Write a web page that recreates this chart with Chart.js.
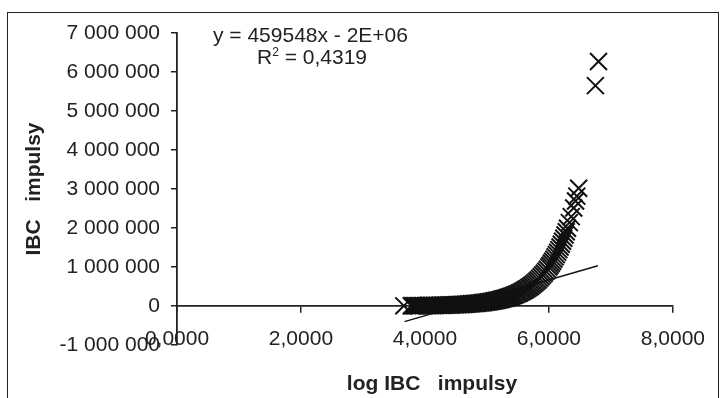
<!DOCTYPE html>
<html>
<head>
<meta charset="utf-8">
<script src="https://cdn.jsdelivr.net/npm/chart.js@4.4.1/dist/chart.umd.min.js"></script>
<style>
  body { margin: 0; background: #fff; }
  #wrap { position: relative; width: 720px; height: 398px; overflow: hidden; font-family: "Liberation Sans", Arial, sans-serif; color: #222; }
  #ibcChart { position: absolute; left: 0; top: 0; }
  #frame { position: absolute; left: 7px; top: 12px; width: 710px; height: 420px; border: 1.7px solid #222; }
  .txt { position: absolute; font-size: 21px; line-height: 25px; white-space: pre; }
  .ttl { position: absolute; font-size: 21px; line-height: 25px; font-weight: bold; white-space: pre; transform: translate(-50%, -50%); }
  sup { font-size: 12px; line-height: 0; vertical-align: 8px; }
</style>
</head>
<body>
<div id="wrap">
  <canvas id="ibcChart" width="720" height="398"></canvas>
  <div id="frame"></div>
  <div class="txt" style="left:213px; top:22px;">y = 459548x - 2E+06</div>
  <div class="txt" style="left:257px; top:44px;">R<sup>2</sup> = 0,4319</div>
  <div class="ttl" style="left:32px; top:189px; transform: translate(-50%, -50%) rotate(-90deg);">IBC   impulsy</div>
  <div class="ttl" style="left:432px; top:382px;">log IBC   impulsy</div>
</div>
<script>
// log IBC impulsy (x) vs IBC impulsy (y)
let logImpulsy = [
  3.66, 3.78,
  3.800, 3.825, 3.850, 3.875, 3.900, 3.925, 3.950, 3.975,
  4.000, 4.025, 4.050, 4.075, 4.100, 4.125, 4.150, 4.175,
  4.200, 4.225, 4.250, 4.275, 4.300, 4.325, 4.350, 4.375,
  4.400, 4.425, 4.450, 4.475, 4.500, 4.525, 4.550, 4.575,
  4.600, 4.625, 4.650, 4.675, 4.700, 4.725, 4.750, 4.775,
  4.800, 4.825, 4.850, 4.875, 4.900, 4.925, 4.950, 4.975,
  5.000, 5.025, 5.050, 5.075, 5.100, 5.125, 5.150, 5.175,
  5.200, 5.225, 5.250, 5.275, 5.300, 5.325, 5.350, 5.375,
  5.400, 5.425, 5.450, 5.475, 5.500, 5.525, 5.550, 5.575,
  5.600, 5.625, 5.650, 5.675, 5.700, 5.725, 5.750, 5.775,
  5.800, 5.825, 5.850, 5.875, 5.900, 5.925, 5.950, 5.975,
  6.00, 6.02, 6.04, 6.06, 6.08, 6.10, 6.12, 6.14,
  6.16, 6.18, 6.20, 6.22, 6.24, 6.26, 6.28, 6.30,
  6.33, 6.36, 6.40, 6.43, 6.45, 6.48,
  6.75, 6.80
];
let impulsy = [
  4600, 6000,
  6310, 6680, 7080, 7500, 7940, 8410, 8910, 9440,
  10000, 10590, 11220, 11890, 12590, 13340, 14130, 14960,
  15850, 16790, 17780, 18840, 19950, 21140, 22390, 23710,
  25120, 26610, 28180, 29850, 31620, 33500, 35480, 37580,
  39810, 42170, 44670, 47320, 50120, 53090, 56230, 59570,
  63100, 66830, 70800, 74990, 79430, 84140, 89130, 94410,
  100000, 105900, 112200, 118900, 125900, 133400, 141300, 149600,
  158500, 167900, 177800, 188400, 199500, 211300, 223900, 237100,
  251200, 266100, 281800, 298500, 316200, 335000, 354800, 375800,
  398100, 421700, 446700, 473200, 501200, 530900, 562300, 595700,
  631000, 668300, 707900, 749900, 794300, 841400, 891300, 944100,
  1000000, 1047000, 1096000, 1148000, 1202000, 1259000, 1318000, 1380000,
  1445000, 1514000, 1585000, 1660000, 1738000, 1820000, 1905000, 1995000,
  2138000, 2291000, 2512000, 2692000, 2818000, 3020000,
  5650000, 6270000
];

// linear trendline ends
let trendX = [3.67, 6.79];
let trendY = [-400000, 1030000];

let xTickLabels = ["0,0000", "2,0000", "4,0000", "6,0000", "8,0000"];
let yTickLabels = ["-1 000 000", "0", "1 000 000", "2 000 000", "3 000 000",
                   "4 000 000", "5 000 000", "6 000 000", "7 000 000"];

function buildChart() {
    let points = logImpulsy.map(function (x, i) { return {x: x, y: impulsy[i]}; });
    let trend = trendX.map(function (x, i) { return {x: x, y: trendY[i]}; });
    let tickFont = {family: "'Liberation Sans', Arial, sans-serif", size: 21};

    new Chart("ibcChart", {
        type: "scatter",
        data: {
            datasets: [{
                data: points,
                pointStyle: "crossRot",
                pointRadius: 12,
                pointHoverRadius: 12,
                borderColor: "#111",
                borderWidth: 2,
                backgroundColor: "transparent"
            }, {
                type: "line",
                data: trend,
                borderColor: "#111",
                borderWidth: 1.5,
                pointRadius: 0,
                fill: false
            }]
        },
        options: {
            responsive: false,
            animation: false,
            devicePixelRatio: 1,
            layout: {padding: {top: 33, right: 33, bottom: 53, left: 0}},
            plugins: {legend: {display: false}, tooltip: {enabled: false}},
            scales: {
                x: {
                    type: "linear",
                    position: {y: 0},
                    min: 0,
                    max: 8,
                    ticks: {
                        stepSize: 2,
                        autoSkip: false,
                        maxRotation: 0,
                        padding: 15,
                        color: "#222",
                        font: tickFont,
                        callback: function (v, i) { return xTickLabels[i]; }
                    },
                    grid: {drawOnChartArea: false, tickLength: 6, color: "#222", lineWidth: 1.5},
                    border: {color: "#222", width: 1.8}
                },
                y: {
                    min: -1000000,
                    max: 7000000,
                    ticks: {
                        stepSize: 1000000,
                        autoSkip: false,
                        padding: 11,
                        color: "#222",
                        font: tickFont,
                        callback: function (v, i) { return yTickLabels[i]; }
                    },
                    grid: {drawOnChartArea: false, tickLength: 6, color: "#222", lineWidth: 1.5},
                    border: {color: "#222", width: 1.8},
                    afterFit: function (s) { s.width = 177; }
                }
            }
        }
    });
}

buildChart();
</script>
</body>
</html>
